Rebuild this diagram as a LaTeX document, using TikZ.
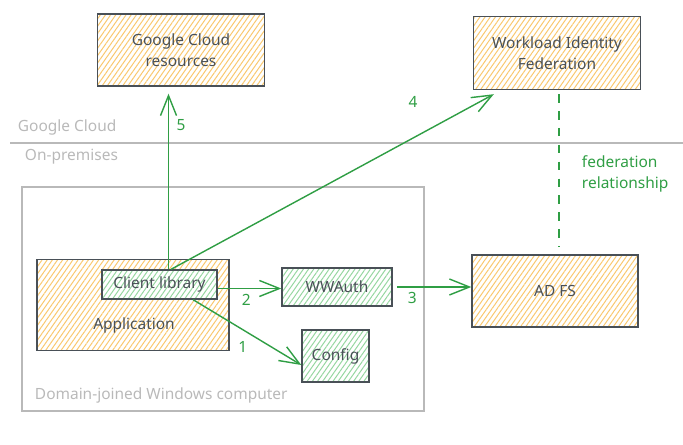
\documentclass[tikz,border=0pt]{standalone}
\usepackage{fontspec}
\setmainfont{Noto Sans}
\usepackage{xcolor}
\usepackage{tikz}
\usetikzlibrary{arrows.meta, positioning, calc, patterns.meta}

\definecolor{inkgray}{RGB}{73,80,87}
\definecolor{linegreen}{RGB}{47,158,68}
\definecolor{hatchorange}{RGB}{250,200,110}
\definecolor{hatchgreen}{RGB}{150,215,160}
\definecolor{softgray}{RGB}{185,185,185}

\begin{document}
\begin{tikzpicture}[
    x=0.025cm, y=0.025cm,
    font=\fontsize{11}{15}\selectfont,
    box/.style={draw=inkgray, line width=1pt, rectangle, text=inkgray, align=center, preaction={fill=white}},
    orangebox/.style={box, preaction={pattern={Lines[angle=55, distance=3pt, line width=0.7pt]}, pattern color=hatchorange}},
    greenbox/.style={box, preaction={pattern={Lines[angle=55, distance=3pt, line width=0.7pt]}, pattern color=hatchgreen}},
    zone/.style={text=softgray, anchor=west},
    numlabel/.style={text=linegreen},
    line/.style={draw=linegreen, line width=1pt, -{Straight Barb[length=5mm, width=4mm]}},
    trust/.style={draw=linegreen, line width=1.3pt, dash pattern=on 6pt off 6pt}
]
    \useasboundingbox (0,0) rectangle (683,445);

    % Zones
    \coordinate (divleft) at (10,302);
    \coordinate (divright) at (683,302);
    \draw[softgray, line width=0.8pt] (divleft) -- (divright);
    \node[zone] (cloudzone) at (13,318) {Google Cloud};
    \node[zone] (premzone) at (20,288) {On-premises};

    % Cloud side
    \node[orangebox, minimum width=4.175cm, minimum height=1.8cm] (gcr) at (181,395) {Google Cloud\\resources};
    \node[orangebox, minimum width=4.175cm, minimum height=1.825cm] (wif) at (557,392) {Workload Identity\\Federation};

    % Windows computer
    \node[draw=softgray, line width=0.8pt, minimum width=10.05cm, minimum height=5.6cm] (domain) at (223,146) {};
    \node[zone] (domlabel) at (30,50) {Domain-joined Windows computer};
    \node[orangebox, minimum width=4.8cm, minimum height=2.275cm] (app) at (133,140) {};
    \node[text=inkgray] (applabel) at (134,120) {Application};
    \node[greenbox, minimum width=2.875cm, minimum height=0.725cm] (lib) at (159.5,160.5) {Client library};
    \node[greenbox, minimum width=2.75cm, minimum height=0.95cm] (wwauth) at (337,158) {WWAuth};
    \node[greenbox, minimum width=1.675cm, minimum height=1.3cm] (cfg) at (335.5,89) {Config};
    \node[orangebox, minimum width=4.15cm, minimum height=1.8cm] (adfs) at (555,154) {AD FS};

    % Messages
    \draw[line] ([xshift=0.84cm]lib.south) -- node[numlabel, pos=0.55, below left] {1} ([yshift=-0.225cm]cfg.west);
    \draw[line] ([yshift=-0.1cm]lib.east) -- node[numlabel, pos=0.45, below] {2} ([yshift=-0.1cm]lib.east -| wwauth.west);
    \draw[line, shorten <=3pt] (wwauth.east) -- node[numlabel, pos=0.25, below] {3} (wwauth.east -| adfs.west);
    \draw[line] ([xshift=0.29cm]lib.north) -- node[numlabel, pos=0.75, yshift=0.9cm] {4} ([shift={(0.525cm,-0.1cm)}]wif.south west);
    \draw[line, shorten >=0.175cm] ([xshift=0.225cm]lib.north) -- node[numlabel, pos=0.79, right=2pt] {5} ([xshift=0.225cm]lib.north |- gcr.south);

    % Trust
    \draw[trust, shorten <=0.1cm, shorten >=0.17cm] ([xshift=0.06cm]wif.south) -- ([xshift=0.06cm]wif.south |- adfs.north);
    \node[numlabel, anchor=west, align=left] (fedlabel) at (577,271) {federation\\relationship};
\end{tikzpicture}
\end{document}
